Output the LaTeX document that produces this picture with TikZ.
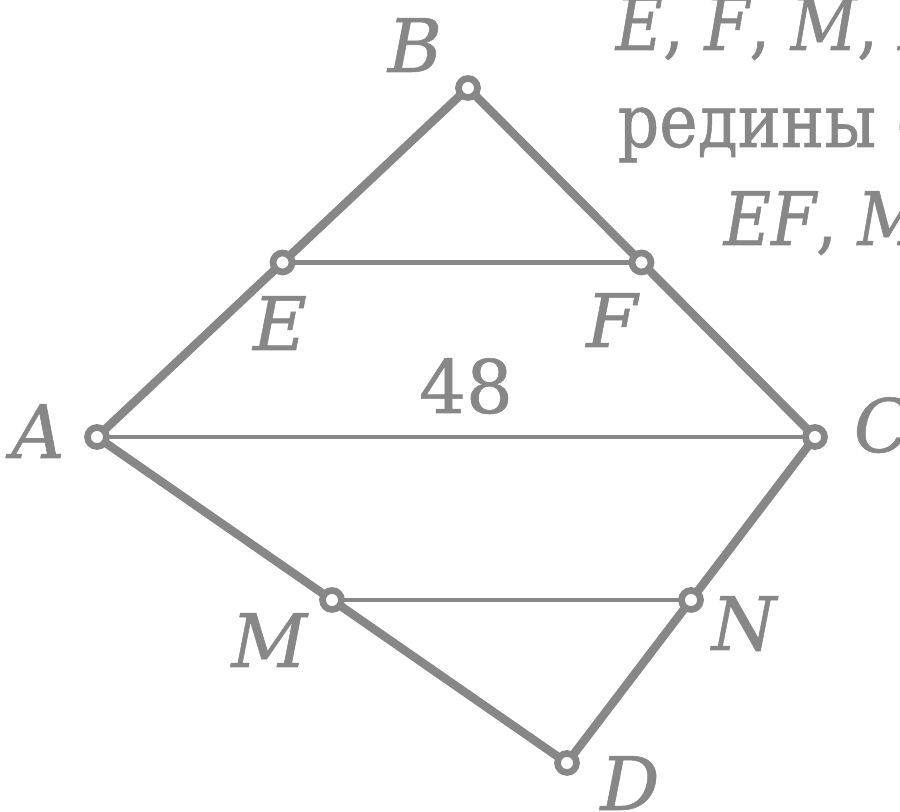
\documentclass[tikz,border=0pt]{standalone}
\usepackage{fontspec}
\setmainfont[FakeBold=0.8]{DejaVu Serif}
\newfontfamily\notefont[FakeBold=0.8,FakeStretch=0.88]{DejaVu Serif}
\usetikzlibrary{calc}
\newcommand{\pt}[1]{\textit{#1}}
\definecolor{ink}{gray}{0.53}

\begin{document}
\begin{tikzpicture}[x=1cm,y=1cm,
  lbl/.style={inner sep=0pt,anchor=base,text=ink,font=\fontsize{21}{25}\selectfont},
  txt/.style={inner sep=0pt,anchor=base west,text=ink,font=\notefont\fontsize{21}{25}\selectfont},
  side/.style={ink,line width=2.4pt,line join=round},
  seg/.style={ink,line width=1.3pt},
  vtx/.style={ink,line width=1.9pt,fill=white}]
  \useasboundingbox (0,0) rectangle (9,8.12);
  \clip (0,0) rectangle (9,8.12);
  % vertices and midpoints
  \coordinate (A) at (0.97,3.75);
  \coordinate (B) at (4.68,7.24);
  \coordinate (C) at (8.15,3.75);
  \coordinate (D) at (5.67,0.49);
  \coordinate (E) at ($(A)!0.5!(B)$);
  \coordinate (F) at ($(B)!0.5!(C)$);
  \coordinate (M) at ($(A)!0.5!(D)$);
  \coordinate (N) at ($(C)!0.5!(D)$);
  % segments
  \draw[seg] (A) -- (C);
  \draw[seg] (E) -- (F);
  \draw[seg] (M) -- (N);
  \draw[side] (A) -- (B) -- (C) -- (D) -- cycle;
  \foreach \p in {A,B,C,D,E,F,M,N} { \draw[vtx] (\p) circle (0.095); }
  % labels
  \node[lbl] (lA) at (0.38,3.54) {\pt{A}};
  \node[lbl] (lB) at (4.15,7.40) {\pt{B}};
  \node[lbl] (lC) at (8.82,3.60) {\pt{C}};
  \node[lbl] (lD) at (6.30,0.02) {\pt{D}};
  \node[lbl] (lE) at (2.80,4.62) {\pt{E}};
  \node[lbl] (lF) at (6.13,4.65) {\pt{F}};
  \node[lbl] (lM) at (2.70,1.45) {\pt{M}};
  \node[lbl] (lN) at (7.45,1.62) {\pt{N}};
  \node[lbl] (len) at (4.66,3.99) {48};
  % text at the right
  \node[txt] (t1) at (6.15,7.62) {\pt{E}, \pt{F}, \pt{M}, \pt{N}};
  \node[txt] (t2) at (6.17,6.65) {редины сторон};
  \node[txt] (t3) at (7.23,5.67) {\pt{EF}, \pt{MN}};
\end{tikzpicture}
\end{document}
